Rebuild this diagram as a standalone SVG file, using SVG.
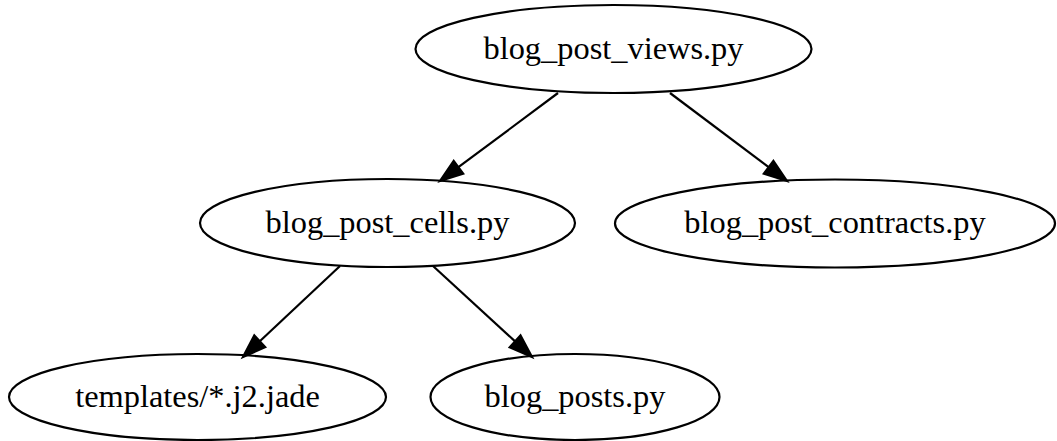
<svg xmlns="http://www.w3.org/2000/svg" width="1057" height="441" viewBox="0 0 1057 441">
<style>
.node ellipse{fill:none;stroke:#000;stroke-width:2.2}
.node text{font-family:"Liberation Serif","Times New Roman",serif;font-size:32.4px;text-anchor:middle;fill:#000}
.edge line{stroke:#000;stroke-width:2.2}
.edge polygon{fill:#000;stroke:#000;stroke-width:2.2}
</style>
<rect width="1057" height="441" fill="#fff"/>
<g id="connectors">
<g class="edge" id="e1"><line x1="558" y1="93" x2="458.4" y2="167.2"/><polygon points="440,181 463.2,173.7 453.7,160.8"/></g>
<g class="edge" id="e2"><line x1="670" y1="93" x2="768.6" y2="167.2"/><polygon points="787,181 763.8,173.6 773.4,160.8"/></g>
<g class="edge" id="e3"><line x1="340" y1="266" x2="259.8" y2="341.3"/><polygon points="243,357 265.2,347.1 254.3,335.4"/></g>
<g class="edge" id="e4"><line x1="433" y1="266" x2="515.1" y2="341.4"/><polygon points="532,357 509.7,347.3 520.5,335.5"/></g>
</g>
<g class="node" id="views"><ellipse cx="613.5" cy="49" rx="198" ry="44"/><text x="613.5" y="58.5">blog_post_views.py</text></g>
<g class="node" id="cells"><ellipse cx="387.5" cy="223" rx="187.5" ry="44"/><text x="387.5" y="232.5">blog_post_cells.py</text></g>
<g class="node" id="contracts"><ellipse cx="835" cy="223.5" rx="220" ry="44"/><text x="835" y="233">blog_post_contracts.py</text></g>
<g class="node" id="templates"><ellipse cx="197.5" cy="397" rx="188.5" ry="43"/><text x="197.5" y="406.5">templates/*.j2.jade</text></g>
<g class="node" id="posts"><ellipse cx="575" cy="397" rx="144.5" ry="43"/><text x="575" y="406.5">blog_posts.py</text></g>
</svg>
